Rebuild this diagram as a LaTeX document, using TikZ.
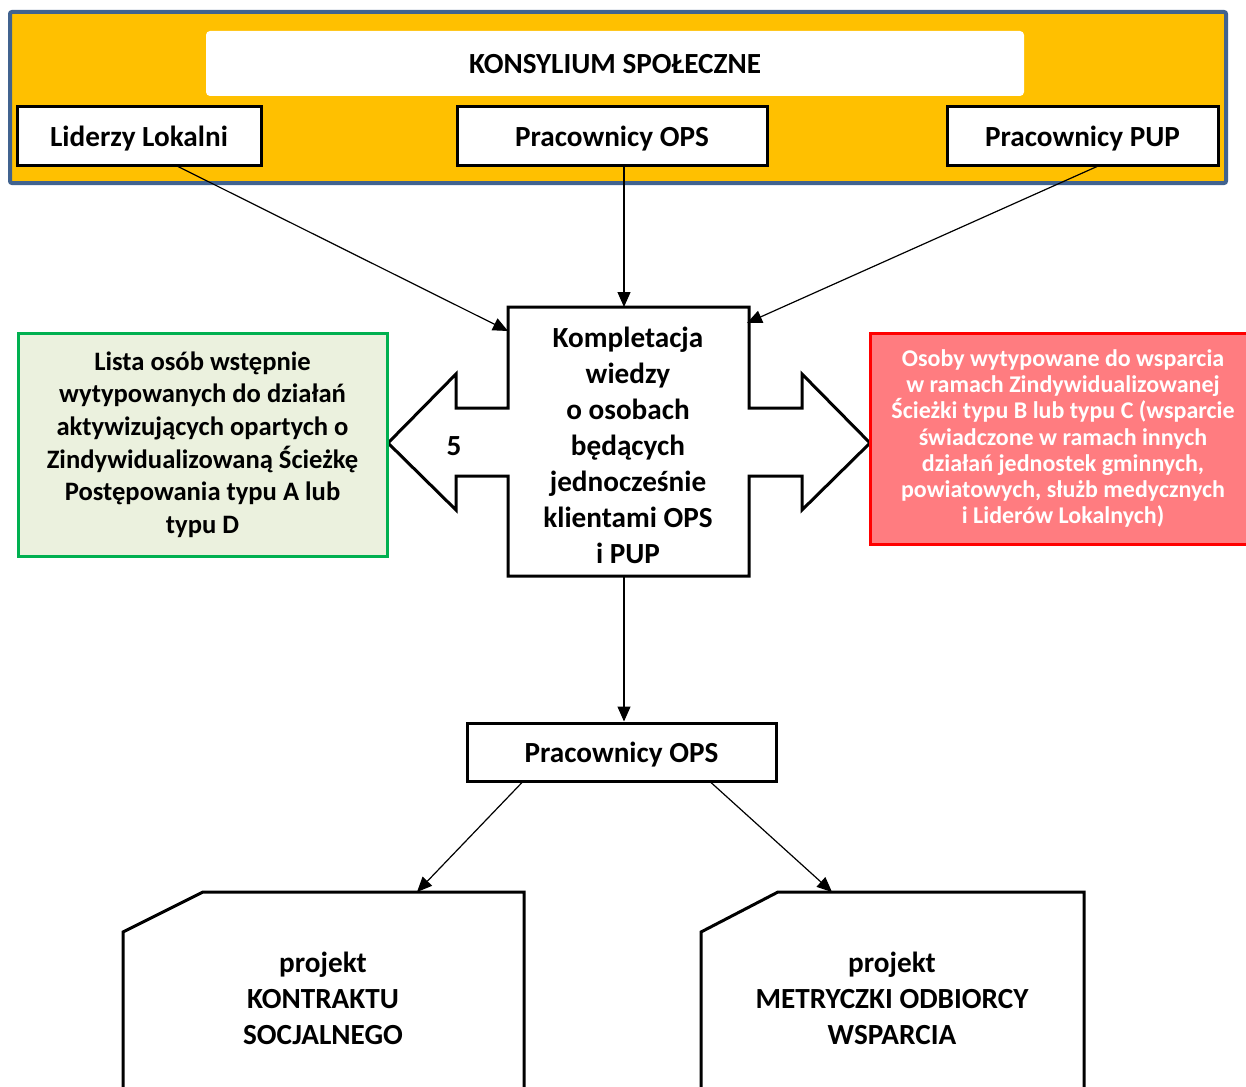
\documentclass[tikz,border=0pt]{standalone}
\usepackage{fontspec}
\setmainfont{Carlito}
\usetikzlibrary{arrows.meta}
\definecolor{pomarancz}{HTML}{FFC000}
\definecolor{ramka}{HTML}{41638F}
\definecolor{zielen}{HTML}{00B050}
\definecolor{zielentlo}{HTML}{EBF1DE}
\definecolor{czerwtlo}{HTML}{FF7C80}
\begin{document}
\begin{tikzpicture}[x=0.5pt,y=-0.5pt]
\tikzstyle{box}=[draw,line width=1.5pt,fill=white,minimum height=29pt,inner sep=0pt,text depth=0pt,font=\bfseries\fontsize{14.6}{17}\selectfont]
\tikzstyle{arr}=[-{Triangle[length=7.5pt,width=6.5pt]},line width=0.6pt]
\tikzstyle{txt}=[align=center,font=\bfseries\fontsize{14.6}{18}\selectfont]
\useasboundingbox (0,0) rectangle (1246,1086);
\draw[fill=pomarancz,draw=ramka,line width=2pt,rounded corners=1pt] (10,12) rectangle (1226,183);
\node[fill=white,rounded corners=2pt,minimum width=409pt,minimum height=32.5pt,text depth=0pt,font=\bfseries\fontsize{14.6}{17}\selectfont] (kons) at (615,63.5) {KONSYLIUM SPOŁECZNE};
\node[box,minimum width=122pt] (lid) at (139,136) {Liderzy Lokalni};
\node[box,minimum width=155pt] (ops) at (612,136) {Pracownicy OPS};
\node[box,minimum width=135.5pt] (pup) at (1082.5,136) {Pracownicy PUP};
\draw[line width=1.5pt,fill=white] (508,307) -- (749,307) -- (749,408) -- (802,408) -- (802,374) -- (870,443)
  -- (802,510) -- (802,476) -- (749,476) -- (749,576) -- (508,576) -- (508,476) -- (456,476) -- (456,510)
  -- (388,443) -- (456,374) -- (456,408) -- (508,408) -- cycle;
\coordinate (kL) at (508,331);
\coordinate (kT) at (624,307);
\coordinate (kR) at (747,323);
\coordinate (kB) at (624,576);
\node[txt] (kompl) at (628,445) {Kompletacja\\wiedzy\\o osobach\\będących\\jednocześnie\\klientami OPS\\i PUP};
\node[font=\bfseries\fontsize{14.6}{17}\selectfont] (piec) at (454,446) {5};
\node[draw=zielen,fill=zielentlo,line width=1.5pt,minimum width=184.5pt,minimum height=111.5pt,align=center,
  font=\bfseries\fontsize{13.3}{16.3}\selectfont] (lista) at (202.5,444.5)
  {Lista osób wstępnie\\wytypowanych do działań\\aktywizujących opartych o\\Zindywidualizowaną Ścieżkę\\Postępowania typu A lub\\typu D};
\node[draw=red,fill=czerwtlo,line width=1.5pt,minimum width=193pt,minimum height=105.5pt,align=center,text=white,
  font=\bfseries\fontsize{12}{13.1}\selectfont] (osoby) at (1063,438.5)
  {Osoby wytypowane do wsparcia\\w ramach Zindywidualizowanej\\Ścieżki typu B lub typu C (wsparcie\\świadczone w ramach innych\\działań jednostek gminnych,\\powiatowych, służb medycznych\\i Liderów Lokalnych)};
\node[box,minimum width=154.5pt] (ops2) at (621.5,752) {Pracownicy OPS};
\draw[line width=1.5pt,fill=white] (123,1100) -- (123,932) -- (203,892) -- (524,892) -- (524,1100);
\draw[line width=1.5pt,fill=white] (701,1100) -- (701,932) -- (778,892) -- (1084,892) -- (1084,1100);
\coordinate (pk) at (417,892);
\coordinate (pm) at (832,892);
\node[txt] (kontr) at (323,998) {projekt\\KONTRAKTU\\SOCJALNEGO};
\node[txt] (metr) at (892,998) {projekt\\METRYCZKI ODBIORCY\\WSPARCIA};
\draw[arr] ([xshift=19.5pt]lid.south) -- (kL);
\draw[arr] ([xshift=6pt]ops.south) -- (kT);
\draw[arr] ([xshift=7.25pt]pup.south) -- (kR);
\draw[arr] (kB) -- (kB |- ops2.north);
\draw[arr] ([xshift=-49.75pt]ops2.south) -- (pk);
\draw[arr] ([xshift=44.75pt]ops2.south) -- (pm);
\end{tikzpicture}
\end{document}
